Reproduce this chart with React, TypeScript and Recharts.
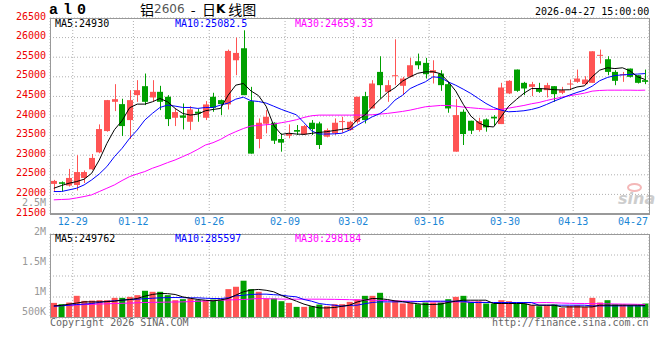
import React from "react";
import {
  ComposedChart,
  Bar,
  Line,
  XAxis,
  YAxis,
  CartesianGrid,
  Cell,
} from "recharts";

// trading days shown on the daily K chart
const dates = [
  "12-25", "12-26", "12-29", "12-30", "12-31", "01-05", "01-06", "01-07", "01-08", "01-09",
  "01-12", "01-13", "01-14", "01-15", "01-16", "01-19", "01-20", "01-21", "01-22", "01-23",
  "01-26", "01-27", "01-28", "01-29", "01-30", "02-02", "02-03", "02-04", "02-05", "02-06",
  "02-09", "02-10", "02-11", "02-12", "02-13", "02-24", "02-25", "02-26", "02-27",
  "03-02", "03-03", "03-04", "03-05", "03-06", "03-09", "03-10", "03-11", "03-12", "03-13",
  "03-16", "03-17", "03-18", "03-19", "03-20", "03-23", "03-24", "03-25", "03-26", "03-27",
  "03-30", "03-31", "04-01", "04-02", "04-03", "04-07", "04-08", "04-09", "04-10",
  "04-13", "04-14", "04-15", "04-16", "04-17", "04-20", "04-21", "04-22", "04-23", "04-24",
  "04-27",
];

const opens = [
  22268, 22310, 22225, 22240, 22420, 22640, 23073, 23616, 24362, 24303,
  23896, 24532, 24761, 24473, 24617, 24490, 23955, 24015, 23853, 24110,
  23955, 24490, 24405, 24295, 25422, 25728, 24380, 23413, 23803, 23828,
  23413, 23497, 23642, 23531, 23828, 23811, 23472, 23557, 23853, 23642,
  23853, 24507, 24193, 25125, 24617, 25015, 24770, 24999, 25397, 25355,
  25100, 25083, 24812, 23090, 24108, 23879, 23642, 23913, 23981, 23794,
  24575, 25185, 24846, 24744, 24702, 24659, 24761, 24592, 24812, 24871,
  24812, 24846, 25550, 25448, 25125, 25041, 25210, 25041, 24914,
];
const highs = [
  22370, 22330, 22650, 23000, 22610, 23030, 23786, 24410, 24812, 24440,
  24659, 24914, 25083, 24914, 24770, 24532, 24193, 24320, 24252, 24176,
  24380, 24592, 24420, 25694, 26000, 26186, 24744, 23938, 24150, 23840,
  23557, 23786, 23770, 23770, 23896, 23853, 23684, 23938, 23981, 23879,
  24490, 24617, 24914, 25524, 24914, 25957, 24999, 25482, 25592, 25482,
  25422, 25168, 24871, 24430, 24167, 23879, 23955, 23938, 24023, 24846,
  24914, 25185, 24871, 24871, 24846, 24846, 24761, 24744, 24931, 25185,
  25015, 25651, 25694, 25524, 25168, 25125, 25210, 25041, 25185,
];
const lows = [
  22080, 22075, 22200, 22100, 22290, 22620, 23050, 23600, 24125, 23489,
  23413, 24360, 24278, 24360, 24150, 23743, 23743, 23658, 23640, 23853,
  23896, 24108, 24023, 24167, 25040, 24532, 23040, 23175, 23557, 23286,
  23090, 23430, 23515, 23515, 23515, 23158, 23455, 23515, 23574, 23625,
  23810, 23810, 24193, 24447, 24362, 24786, 24532, 24981, 25193, 24956,
  24829, 24642, 24083, 23090, 23260, 23540, 23600, 23600, 23743, 23794,
  24558, 24617, 24532, 24507, 24592, 24473, 24362, 24558, 24659, 24846,
  24812, 24846, 25338, 25040, 24786, 24871, 24981, 24829, 24812,
];
const closes = [
  22344, 22270, 22420, 22570, 22570, 22930, 23667, 24405, 24430, 23743,
  24405, 24659, 24362, 24617, 24362, 23921, 24100, 23955, 24168, 24060,
  24295, 24210, 24303, 25660, 25609, 24532, 23040, 23828, 23981, 23370,
  23320, 23557, 23600, 23743, 23667, 23260, 23642, 23828, 23870, 23853,
  24490, 23896, 24829, 24787, 24787, 25040, 24956, 25295, 25295, 25066,
  25168, 24787, 24193, 24023, 23540, 23625, 23870, 23710, 23938, 24727,
  24897, 24642, 24702, 24812, 24617, 24787, 24558, 24659, 24829, 24956,
  24931, 25651, 25560, 25125, 24897, 25066, 24999, 24846, 24871,
];

const ma5 = [
  22157, 22225, 22285, 22327, 22387, 22540, 22878, 23300, 23650, 23880,
  24210, 24303, 24303, 24362, 24447, 24362, 24193, 24066, 24023, 24049,
  24134, 24167, 24193, 24532, 24787, 24829, 24640, 24520, 24250, 23760,
  23530, 23560, 23540, 23531, 23557, 23580, 23600, 23630, 23659, 23690,
  23900, 24020, 24230, 24420, 24600, 24720, 24890, 25000, 25090, 25126,
  25130, 25080, 24880, 24640, 24300, 24000, 23830, 23740, 23720, 23980,
  24250, 24420, 24580, 24700, 24700, 24690, 24670, 24665, 24670, 24740,
  24770, 25000, 25170, 25230, 25210, 25230, 25150, 25000, 24930,
];
const ma10 = [
  22073, 22073, 22115, 22157, 22242, 22370, 22522, 22709, 22963, 23175,
  23430, 23642, 23896, 24066, 24218, 24278, 24252, 24218, 24218, 24193,
  24218, 24218, 24278, 24330, 24430, 24480, 24390, 24370, 24330, 24250,
  24170, 24100, 24030, 23830, 23620, 23540, 23540, 23545, 23560, 23640,
  23760, 23870, 23980, 24060, 24200, 24405, 24530, 24700, 24790, 24871,
  24999, 24981, 24871, 24786, 24684, 24575, 24447, 24320, 24218, 24150,
  24108, 24117, 24134, 24167, 24218, 24295, 24380, 24456, 24532, 24600,
  24659, 24760, 24900, 24981, 25032, 25049, 25060, 25070, 25082.5,
];
const ma30 = [
  21861, 21870, 21878, 21910, 21946, 21988, 22073, 22157, 22242, 22353,
  22454, 22522, 22582, 22667, 22734, 22810, 22878, 22963, 23048, 23150,
  23260, 23319, 23404, 23514, 23600, 23680, 23743, 23760, 23777, 23794,
  23828, 23862, 23905, 23964, 24006, 24023, 24023, 24023, 24023, 24023,
  24023, 24023, 24032, 24049, 24066, 24091, 24117, 24150, 24193, 24235,
  24252, 24269, 24269, 24252, 24227, 24210, 24193, 24176, 24167, 24167,
  24201, 24235, 24269, 24312, 24345, 24396, 24439, 24481, 24515, 24549,
  24583, 24634, 24651, 24659, 24659, 24659, 24659, 24655, 24659.33,
];

// volume in thousands
const volumes = [
  360, 329, 369, 528, 408, 415, 424, 424, 480, 480,
  504, 544, 648, 624, 624, 544, 424, 448, 464, 424,
  424, 440, 440, 688, 744, 888, 688, 624, 464, 464,
  400, 360, 265, 265, 280, 320, 280, 329, 329, 384,
  440, 528, 528, 600, 369, 408, 345, 360, 329, 369,
  369, 369, 448, 504, 528, 384, 400, 345, 345, 424,
  400, 345, 345, 305, 281, 305, 321, 240, 288, 305,
  264, 480, 369, 424, 321, 321, 305, 305, 345,
];
const volMa5 = [
  288, 300, 329, 355, 384, 384, 384, 390, 400, 424,
  440, 464, 520, 560, 584, 580, 560, 504, 470, 440,
  424, 408, 430, 464, 544, 624, 664, 680, 660, 624,
  540, 470, 400, 330, 280, 240, 240, 249, 280, 305,
  380, 424, 464, 460, 440, 408, 390, 360, 340, 321,
  321, 330, 369, 400, 424, 424, 424, 424, 345, 345,
  345, 345, 345, 305, 305, 305, 305, 264, 264, 264,
  264, 264, 305, 305, 305, 305, 305, 305, 300,
];
const volMa10 = [
  280, 290, 305, 320, 330, 345, 370, 395, 410, 424,
  440, 448, 460, 470, 480, 485, 488, 485, 480, 480,
  470, 464, 464, 480, 528, 540, 560, 568, 568, 555,
  544, 520, 504, 440, 400, 345, 320, 305, 280, 300,
  305, 340, 369, 384, 384, 384, 384, 384, 390, 400,
  400, 400, 400, 400, 400, 369, 369, 369, 369, 369,
  369, 369, 369, 369, 305, 305, 305, 305, 305, 305,
  305, 288, 288, 288, 288, 288, 288, 288, 286,
];
const volMa30 = [
  288, 295, 300, 310, 318, 325, 332, 338, 345, 350,
  355, 362, 369, 372, 375, 378, 381, 384, 390, 398,
  405, 415, 424, 430, 435, 440, 452, 464, 460, 455,
  450, 448, 448, 448, 448, 448, 446, 444, 440, 436,
  432, 428, 424, 420, 414, 408, 404, 400, 394, 388,
  384, 384, 384, 384, 382, 380, 376, 372, 369, 366,
  363, 361, 360, 362, 365, 368, 362, 356, 350, 347,
  345, 342, 340, 337, 334, 331, 329, 325, 320,
];

const priceTicks = [21500, 22000, 22500, 23000, 23500, 24000, 24500, 25000, 25500, 26000, 26500];
const volTicks = [500000, 1000000, 1500000, 2000000];
const volTickLabels: Record<number, string> = { 500000: "500K", 1000000: "1M", 1500000: "1.5M", 2000000: "2M" };
const tickDates = ["12-29", "01-12", "01-26", "02-09", "03-02", "03-16", "03-30", "04-13", "04-27"];

const UP = "#ff5454";
const DOWN = "#00a000";
const MONO = "'DejaVu Sans Mono', monospace";
const GRID = "#b0b0b0";

// grid lines sit on the right edge of the dated candle
const gridTicks = tickDates.map((d) => dates.indexOf(d) + 0.5);
const lastIdx = dates.length - 1;

const candleRows = dates.map((date, i) => ({
  i,
  date,
  open: opens[i],
  high: highs[i],
  low: lows[i],
  close: closes[i],
  range: [lows[i], highs[i]],
  ma5: ma5[i],
  ma10: ma10[i],
  ma30: ma30[i],
}));

const volRows = dates.map((date, i) => ({
  i,
  date,
  vol: volumes[i] * 1000,
  vma5: volMa5[i] * 1000,
  vma10: volMa10[i] * 1000,
  vma30: volMa30[i] * 1000,
  up: closes[i] >= opens[i],
}));

const Candle = (props: any) => {
  const { x, y, width, height, payload } = props;
  if (x == null || y == null) return null;
  const top = Math.min(y, y + height);
  const h = Math.abs(height);
  const { open, close, high, low } = payload;
  const color = close >= open ? UP : DOWN;
  const span = high - low || 1;
  const toY = (v: number) => top + ((high - v) / span) * h;
  const left = Math.round(x);
  const cx = left + Math.floor(width / 2) + 0.5;
  const bTop = toY(Math.max(open, close));
  const bBot = toY(Math.min(open, close));
  return (
    <g>
      <line x1={cx} x2={cx} y1={top} y2={top + h} stroke={color} strokeWidth={1} />
      <rect x={left} y={bTop} width={width} height={Math.max(1, bBot - bTop)} fill={color} />
    </g>
  );
};

const PriceTick = (props: any) => {
  const { y, payload } = props;
  return (
    <text x={46} y={y - 2} textAnchor="end" dominantBaseline="central" fill="#ee0000" fontSize={10} fontFamily={MONO}>
      {payload.value}
    </text>
  );
};

const volDy: Record<number, number> = { 500000: 14, 1000000: 15, 1500000: 6, 2000000: -3 };
const VolTick = (props: any) => {
  const { y, payload } = props;
  return (
    <text x={46} y={y + (volDy[payload.value] || 0)} textAnchor="end" dominantBaseline="central" fill="#999" fontSize={10} fontFamily={MONO}>
      {volTickLabels[payload.value]}
    </text>
  );
};

const DateTick = (props: any) => {
  const { x, payload } = props;
  const idx = Math.round(payload.value - 0.5);
  const isLast = idx === lastIdx;
  return (
    <text x={isLast ? 648 : x} y={221.5} textAnchor={isLast ? "end" : "middle"} dominantBaseline="central" fill="#1a86d6" fontSize={10} fontFamily={MONO}>
      {dates[idx]}
    </text>
  );
};

const txt = (left: number, top: number, color: string, extra: React.CSSProperties = {}): React.CSSProperties => ({
  position: "absolute",
  left,
  top,
  color,
  fontFamily: MONO,
  fontSize: 10,
  lineHeight: "10px",
  whiteSpace: "pre",
  ...extra,
});

const titleSpan: React.CSSProperties = { verticalAlign: "top", lineHeight: "14px" };

export default function App() {
  return (
    <div style={{ position: "absolute", left: 0, top: 0, width: 660, height: 360, background: "#fff", overflow: "hidden" }}>
      {/* sina watermark */}
      <div style={{ position: "absolute", left: 627, top: 183, width: 15, height: 9, borderRadius: "50%", border: "2px solid #f4b8b8", boxSizing: "border-box" }} />
      <div style={txt(618, 192, "#cdcdcd", { fontSize: 16, lineHeight: "14px", fontStyle: "italic", fontWeight: 700, fontFamily: "'DejaVu Sans', sans-serif" })}>sina</div>

      <div style={{ position: "absolute", left: 0, top: 0 }}>
        <ComposedChart width={660} height={232} data={candleRows} margin={{ top: 18, right: 11, bottom: 0, left: 0 }}>
          <CartesianGrid stroke={GRID} strokeDasharray="1 2" />
          <XAxis
            xAxisId={0}
            type="number"
            dataKey="i"
            domain={[-0.5, lastIdx + 0.5]}
            ticks={gridTicks}
            interval={0}
            tick={<DateTick />}
            tickLine={false}
            axisLine={false}
            height={18}
            allowDataOverflow
          />
          <XAxis xAxisId="c" dataKey="i" type="category" hide />
          <YAxis
            type="number"
            domain={[21500, 26500]}
            ticks={priceTicks}
            interval={0}
            tick={<PriceTick />}
            tickLine={false}
            axisLine={false}
            width={50}
            allowDataOverflow
          />
          <Bar xAxisId="c" dataKey="range" barSize={6} shape={<Candle />} isAnimationActive={false} />
          <Line xAxisId="c" dataKey="ma30" stroke="#ff00ff" strokeWidth={1} dot={false} isAnimationActive={false} />
          <Line xAxisId="c" dataKey="ma10" stroke="#0000ff" strokeWidth={1} dot={false} isAnimationActive={false} />
          <Line xAxisId="c" dataKey="ma5" stroke="#000000" strokeWidth={1} dot={false} isAnimationActive={false} />
        </ComposedChart>
      </div>

      <div style={{ position: "absolute", left: 0, top: 226 }}>
        <ComposedChart width={660} height={100} data={volRows} margin={{ top: 8, right: 11, bottom: 8, left: 0 }}>
          <CartesianGrid stroke={GRID} strokeDasharray="1 2" />
          <XAxis xAxisId={0} type="number" dataKey="i" domain={[-0.5, lastIdx + 0.5]} ticks={gridTicks} interval={0} hide allowDataOverflow />
          <XAxis xAxisId="c" dataKey="i" type="category" hide />
          <YAxis
            type="number"
            domain={[0, 2000000]}
            ticks={volTicks}
            interval={0}
            tick={<VolTick />}
            tickLine={false}
            axisLine={false}
            width={50}
            allowDataOverflow
          />
          <Bar xAxisId="c" dataKey="vol" barSize={6} isAnimationActive={false}>
            {volRows.map((r) => (
              <Cell key={r.i} fill={r.up ? UP : DOWN} />
            ))}
          </Bar>
          <Line xAxisId="c" dataKey="vma30" stroke="#ff00ff" strokeWidth={1} dot={false} isAnimationActive={false} />
          <Line xAxisId="c" dataKey="vma10" stroke="#0000ff" strokeWidth={1} dot={false} isAnimationActive={false} />
          <Line xAxisId="c" dataKey="vma5" stroke="#000000" strokeWidth={1} dot={false} isAnimationActive={false} />
        </ComposedChart>
      </div>

      {/* panel borders */}
      <div style={{ position: "absolute", left: 50, top: 18, width: 600, height: 197, border: "1px solid #999", borderBottomWidth: 2, boxSizing: "border-box" }} />
      <div style={{ position: "absolute", left: 50, top: 234, width: 600, height: 84, border: "1px solid #999", boxSizing: "border-box" }} />

      {/* header */}
      <div style={txt(49, 4, "#000", { fontFamily: "'Liberation Mono', monospace", fontWeight: 700, fontSize: 15, lineHeight: "13px", letterSpacing: -2 })}>a l 0</div>
      <div style={txt(140, 2, "#000", { fontFamily: "'Noto Sans CJK SC', sans-serif", fontSize: 14, lineHeight: "14px" })}>
        <span style={titleSpan}>铝</span>
        <span style={{ ...titleSpan, color: "#555", fontFamily: "'DejaVu Sans', sans-serif", fontSize: 12 }}>2606</span>
        <span style={titleSpan}>{"  -  日"}</span>
        <span style={{ ...titleSpan, fontFamily: "'DejaVu Sans', sans-serif", fontWeight: 700, fontSize: 12, marginRight: 3 }}>K</span>
        <span style={titleSpan}>线图</span>
      </div>
      <div style={txt(535, 7, "#000")}>2026-04-27 15:00:00</div>

      {/* MA legends */}
      <div style={txt(55, 19, "#000")}>MA5:24930</div>
      <div style={txt(175, 19, "#0000ff")}>MA10:25082.5</div>
      <div style={txt(295, 19, "#ff00ff")}>MA30:24659.33</div>
      <div style={txt(55, 234, "#000")}>MA5:249762</div>
      <div style={txt(175, 234, "#0000ff")}>MA10:285597</div>
      <div style={txt(295, 234, "#ff00ff")}>MA30:298184</div>

      <div style={txt(22, 200, "#999", { lineHeight: "5px" })}>2.5M</div>

      {/* footer */}
      <div style={txt(50, 318, "#666")}>Copyright 2026 SINA.COM</div>
      <div style={txt(492, 318, "#666", { width: 156, textAlign: "right" })}>http://finance.sina.com.cn</div>
    </div>
  );
}
